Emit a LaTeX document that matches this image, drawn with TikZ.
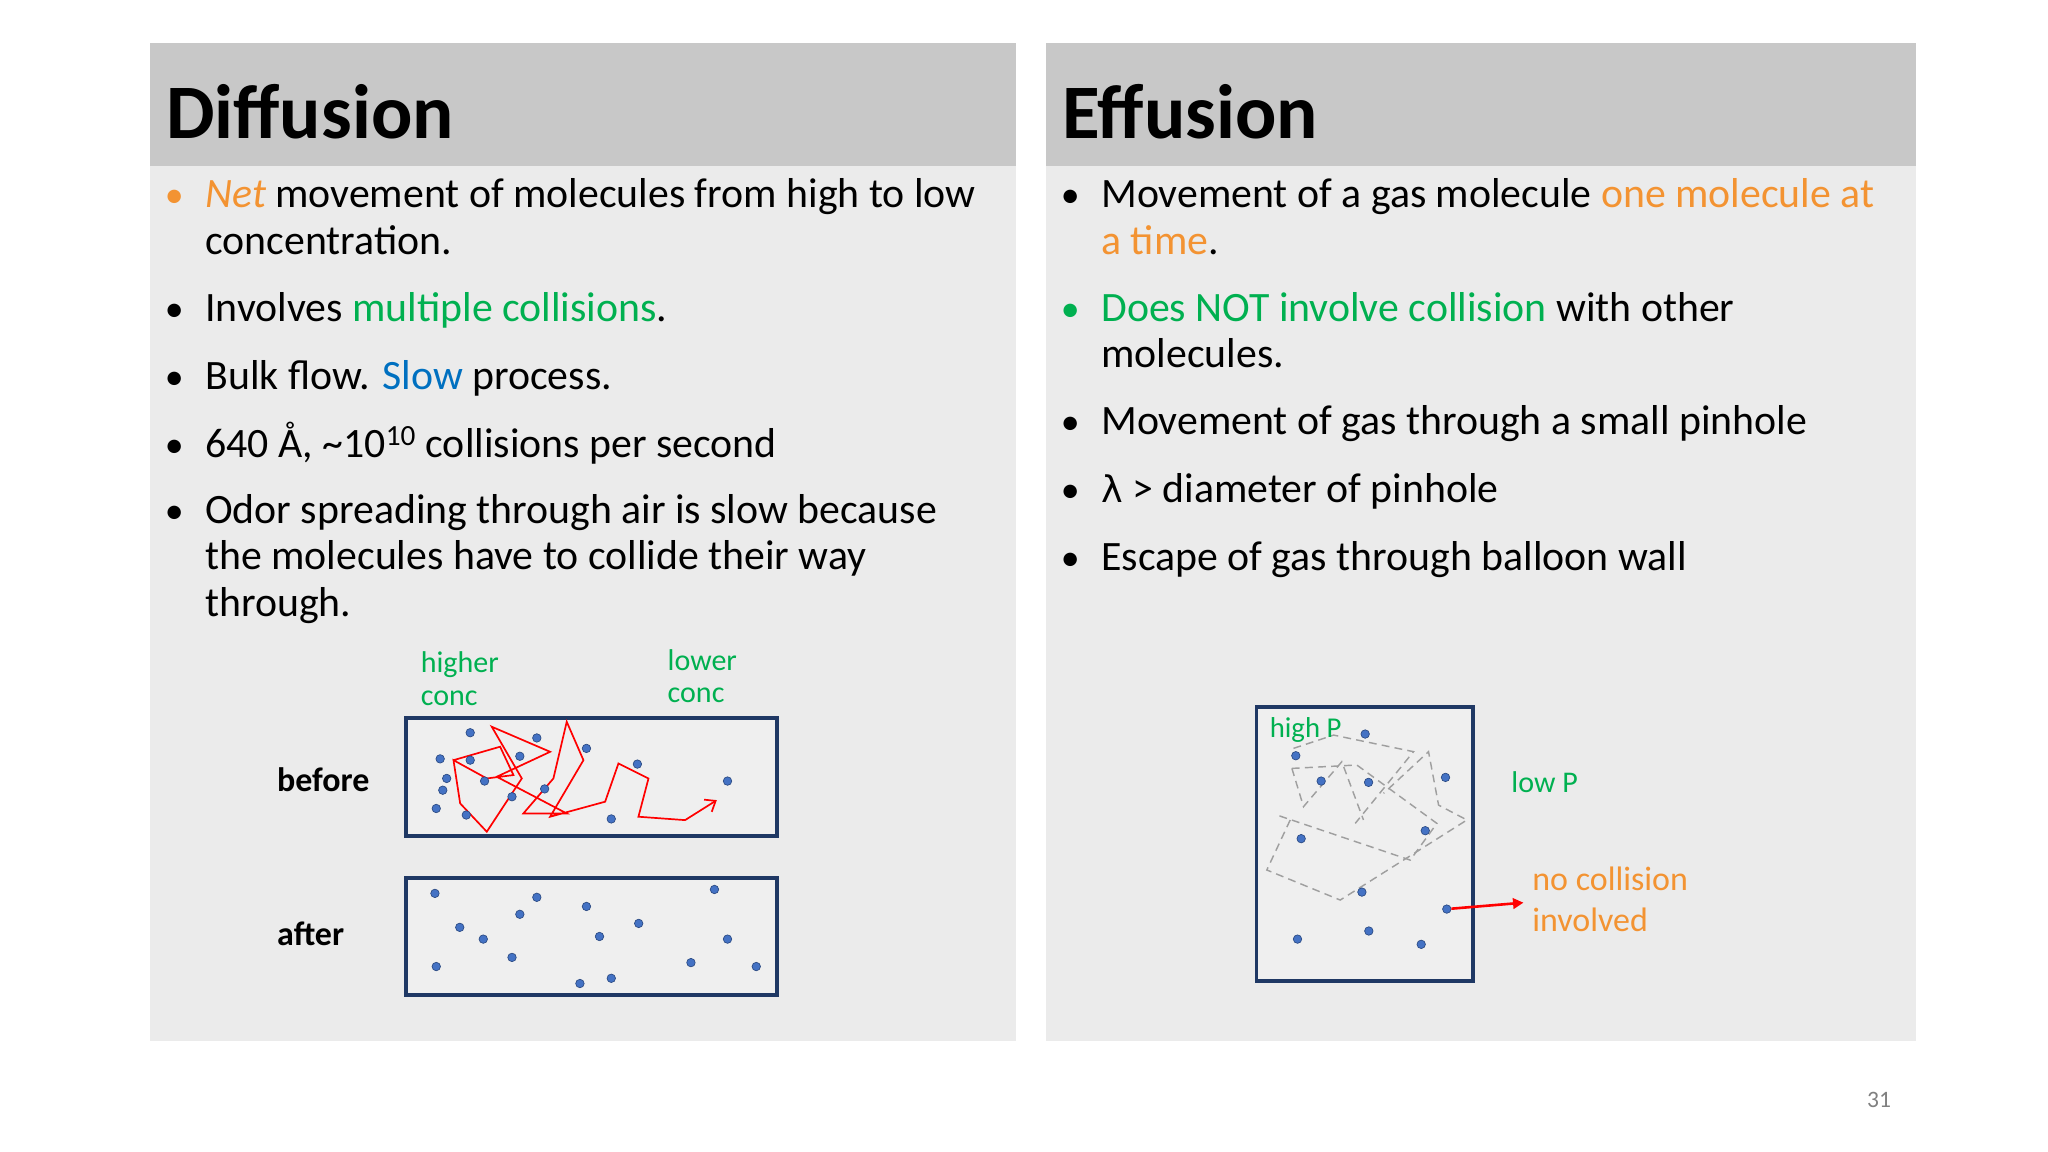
\documentclass[tikz,border=0pt]{standalone}
\usepackage{fontspec}
\setmainfont{Carlito}
\usetikzlibrary{arrows.meta}
\definecolor{panel}{HTML}{EBEBEB}
\definecolor{head}{HTML}{C8C8C8}
\definecolor{org}{HTML}{F39332}
\definecolor{grn}{HTML}{00B050}
\definecolor{blu}{HTML}{0070C0}
\definecolor{boxc}{HTML}{1F3864}
\definecolor{dotc}{HTML}{4472C4}
\begin{document}
\begin{tikzpicture}[x=1pt,y=-1pt,
 txt/.style={anchor=base west,inner sep=0pt,font=\fontsize{32}{36}\selectfont},
 bul/.style={anchor=base west,inner sep=0pt,font=\fontsize{29}{34}\selectfont},
 ttl/.style={anchor=base west,inner sep=0pt,font=\fontsize{59}{62}\selectfont\bfseries},
 lab/.style={anchor=base west,inner sep=0pt,font=\fontsize{23}{26}\selectfont,text=grn},
 olab/.style={anchor=base west,inner sep=0pt,font=\fontsize{26}{28}\selectfont,text=org},
 blab/.style={anchor=base west,inner sep=0pt,font=\fontsize{26}{28}\selectfont\bfseries},
 gbox/.style={draw=boxc,line width=3pt,fill=panel!80!white},
 mol/.style={circle,fill=dotc,draw=boxc!70!dotc,line width=0.5pt,inner sep=0pt,minimum size=6.5pt}]
\fill[white] (0,0) rectangle (1568,882);
\useasboundingbox (0,0) rectangle (1568,882);
% panels
\fill[panel] (115,33) rectangle (778,797);
\fill[head] (115,33) rectangle (778,127);
\fill[panel] (801,33) rectangle (1467,797);
\fill[head] (801,33) rectangle (1467,127);
\node[ttl] (t1) at (127,106) {Diffusion};
\node[ttl] (t2) at (813,106) {Effusion};
% left bullets
\node[bul,text=org] (b1) at (126,159) {•};
\node[txt] (l1) at (157,159) {\textcolor{org}{\itshape Net} movement of molecules from high to low};
\node[txt] (l1b) at (157,195) {concentration.};
\node[bul] (b2) at (126,246) {•};
\node[txt] (l2) at (157,246) {Involves \textcolor{grn}{multiple collisions}.};
\node[bul] (b3) at (126,298) {•};
\node[txt] (l3) at (157,298) {Bulk flow. \textcolor{blu}{Slow} process.};
\node[bul] (b4) at (126,350) {•};
\node[txt] (l4) at (157,350) {640 Å, {\char"7E}10\textsuperscript{10} collisions per second};
\node[bul] (b5) at (126,401) {•};
\node[txt] (l5) at (157,401) {Odor spreading through air is slow because};
\node[txt] (l5b) at (157,436) {the molecules have to collide their way};
\node[txt] (l5c) at (157,472) {through.};
% right bullets
\node[bul] (r1b) at (812,159) {•};
\node[txt] (r1) at (843,159) {Movement of a gas molecule \textcolor{org}{one molecule at}};
\node[txt,text=org] (r1c) at (843,195) {a time\textcolor{black}{.}};
\node[bul,text=grn] (r2b) at (812,246) {•};
\node[txt] (r2) at (843,246) {\textcolor{grn}{Does NOT involve collision} with other};
\node[txt] (r2c) at (843,281) {molecules.};
\node[bul] (r3b) at (812,333) {•};
\node[txt] (r3) at (843,333) {Movement of gas through a small pinhole};
\node[bul] (r4b) at (812,385) {•};
\node[txt] (r4) at (843,385) {\fontspec{DejaVu Sans}\fontsize{28}{32}\selectfont λ\fontspec{Carlito}\fontsize{32}{36}\selectfont{} > diameter of pinhole};
\node[bul] (r5b) at (812,437) {•};
\node[txt] (r5) at (843,437) {Escape of gas through balloon wall};
% diffusion diagram
\node[lab] (hc1) at (322,515) {higher};
\node[lab] (hc2) at (322,540) {conc};
\node[lab] (lc1) at (511,513) {lower};
\node[lab] (lc2) at (511,538) {conc};
\node[blab] (bef) at (212,606) {before};
\node[blab] (aft) at (212,724) {after};
\draw[gbox] (311,550) rectangle (595,640);
\draw[gbox] (311,672) rectangle (595,762);
\draw[red,line width=1.3pt,line join=miter,-{Straight Barb[length=7pt,width=11pt]}]
 (347.2,582)--(382.9,571.7)--(393.1,593.4)--(372.7,596)--(347.2,582)--(352.3,615.1)--(372.7,636.8)--(399.5,596)--(376.5,556.4)--(421.2,575.6)--(380.3,594.7)--(433.9,622.8)--(400.7,622.8)--(423.7,596)--(433.9,552.6)--(446.7,582)--(421.2,625.3)--(463.3,613.8)--(473.5,584.5)--(496.5,596)--(488.8,625.3)--(524.5,627.9)--(548.8,612.6);
\foreach \p [count=\i] in {(360,561),(337,581),(360,582),(342,596),(339,605),(334,619),(357,624),(371,598),(398,579),(411,565),(449,573),(392,610),(417,604),(488,585),(468,627),(557,598)}
 \node[mol] (bd\i) at \p {};
\foreach \p [count=\i] in {(333,684),(411,687),(449,694),(547,681),(398,700),(352,710),(370,719),(459,717),(489,707),(557,719),(392,733),(334,740),(468,749),(444,753),(529,737),(579,740)}
 \node[mol] (ad\i) at \p {};
% effusion diagram
\draw[gbox] (962,541) rectangle (1128,751);
\begin{scope}[gray!75,dashed,line width=1.1pt,dash pattern=on 6pt off 4pt]
\draw (990.3,573.0)--(1021,562.8)--(1082.2,575.5)--(1037.6,630.4);
\draw (989.1,588.3)--(1038.8,585.7)--(1100.1,630.4)--(1079.7,658.5)--(977.6,624.0);
\draw (989.1,588.3)--(998,617.6)--(1027.3,583.2)--(1043.9,627.8);
\draw (987.8,627.8)--(969.9,666.1)--(1026.1,689.1)--(1123.1,627.8)--(1101.4,616.4)--(1093.7,575.5)--(1059.3,607.4);
\end{scope}
\node[lab,font=\fontsize{22}{24}\selectfont] (hp) at (972,565) {high P};
\foreach \p [count=\i] in {(1045.2,562.0),(992.1,578.6),(1011.5,598.0),(1047.8,599.0),(1106.7,595.2),(996.2,642.1),(1091.2,636.0),(1042.7,683.0),(1107.7,696.0),(993.4,719.0),(1048.0,712.8),(1088.1,723.0)}
 \node[mol] (ed\i) at \p {};
\coordinate (arend) at (1166.4,691.1);
\draw[red,line width=2pt,-{Triangle[length=8pt,width=8pt]}] (ed9) -- (arend);
\node[lab] (lp) at (1157,607) {low P};
\node[olab] (nc1) at (1173,682) {no collision};
\node[olab] (nc2) at (1173,713) {involved};
\node[anchor=base east,inner sep=0pt,text=gray,font=\fontsize{18}{20}\selectfont] (pg) at (1448,848) {31};
\end{tikzpicture}
\end{document}
